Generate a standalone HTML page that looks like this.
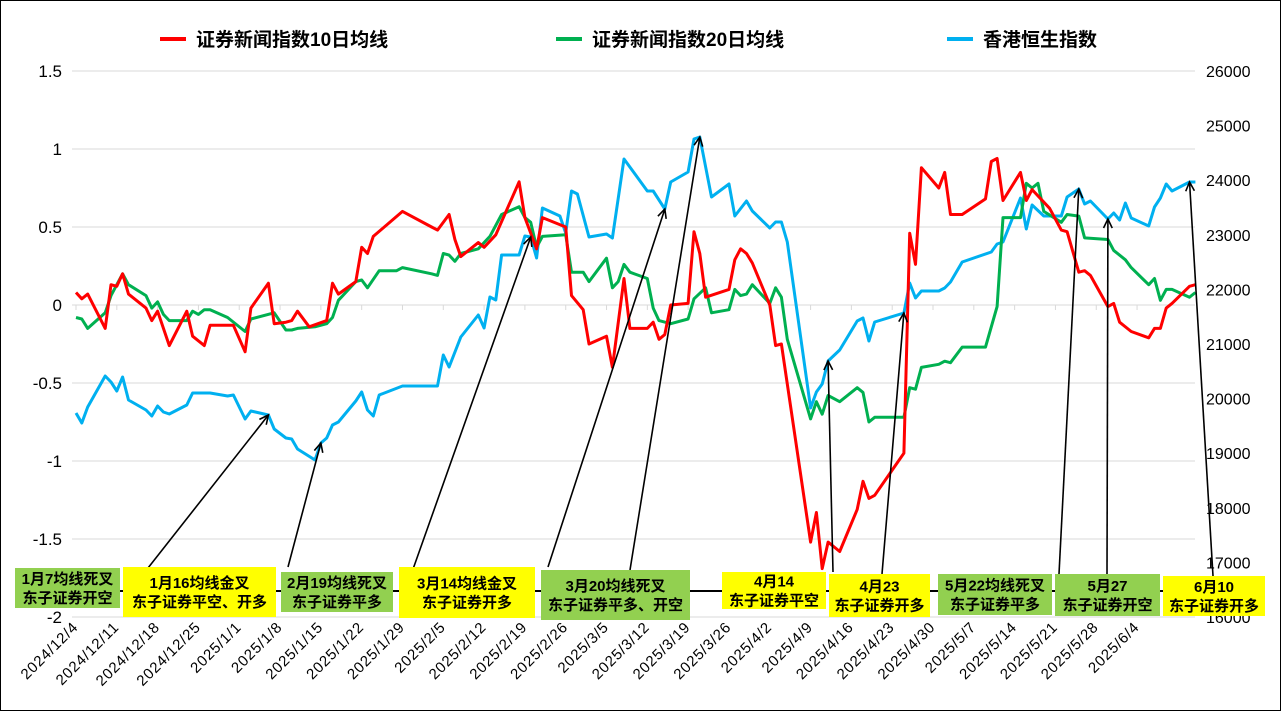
<!DOCTYPE html>
<html><head><meta charset="utf-8"><style>
html,body{margin:0;padding:0;background:#fff}
svg{display:block}
text{font-family:"Liberation Sans","Noto Sans CJK SC",sans-serif}
.cj{font-family:"Liberation Sans","Noto Sans CJK SC",sans-serif;font-weight:bold}
</style></head><body>
<svg id="c" width="1281" height="711" viewBox="0 0 1281 711" xmlns="http://www.w3.org/2000/svg">
<rect x="0.5" y="0.5" width="1280" height="710" fill="#fff" stroke="#000"/>
<g id="grid"></g><g id="axes"></g><g id="series"></g><g id="ann"></g>
<g id="legend">
<line x1="160" y1="39" x2="186" y2="39" stroke="#ff0000" stroke-width="4"/>
<text x="196" y="46" font-size="19" class="cj" fill="#000">证券新闻指数10日均线</text>
<line x1="556" y1="39" x2="582" y2="39" stroke="#00b050" stroke-width="4"/>
<text x="592" y="46" font-size="19" class="cj" fill="#000">证券新闻指数20日均线</text>
<line x1="947" y1="39" x2="973" y2="39" stroke="#00b0f0" stroke-width="4"/>
<text x="983" y="46" font-size="19" class="cj" fill="#000">香港恒生指数</text>
</g>
</svg>
<script>
// day offsets from 2024-12-04
const redDays=[0,1,2,5,6,7,8,9,12,13,14,16,19,20,22,23,27,29,30,33,34,36,37,38,40,43,44,45,48,49,50,51,56,61,62,64,65,66,69,70,72,76,77,79,80,84,85,87,88,91,92,94,95,98,99,100,101,102,105,106,107,108,112,113,114,115,116,119,120,121,126,127,128,129,131,134,135,136,137,142,143,144,145,148,149,150,152,156,157,158,159,162,163,164,167,169,170,172,173,174,177,178,179,181,184,185,186,187,188,191,192];
const redVals=[0.08,0.04,0.07,-0.15,0.13,0.12,0.2,0.07,-0.02,-0.1,-0.04,-0.26,-0.04,-0.2,-0.26,-0.13,-0.13,-0.3,-0.02,0.14,-0.12,-0.11,-0.1,-0.04,-0.14,-0.1,0.14,0.07,0.15,0.37,0.33,0.44,0.6,0.5,0.48,0.58,0.42,0.31,0.4,0.37,0.45,0.79,0.56,0.36,0.56,0.5,0.06,-0.03,-0.25,-0.2,-0.4,0.17,-0.15,-0.15,-0.11,-0.22,-0.19,0,0.01,0.47,0.33,0.05,0.1,0.29,0.36,0.33,0.27,0.0,-0.26,-0.25,-1.52,-1.33,-1.69,-1.52,-1.58,-1.31,-1.13,-1.24,-1.22,-0.95,0.46,0.26,0.88,0.75,0.85,0.58,0.58,0.68,0.92,0.94,0.67,0.85,0.67,0.74,0.62,0.48,0.47,0.21,0.22,0.19,-0.01,0.01,-0.11,-0.17,-0.21,-0.15,-0.15,-0.02,0.01,0.12,0.13];
const greenDays=[0,1,2,5,6,8,9,12,13,14,15,16,19,20,21,22,23,26,29,30,34,36,37,38,41,43,44,45,48,49,50,52,55,56,61,62,63,64,65,66,69,71,73,76,77,78,79,80,84,85,87,88,91,92,93,94,95,98,99,100,102,105,106,108,109,112,113,114,115,116,119,120,121,122,126,127,128,129,131,134,135,136,137,142,143,144,145,148,149,150,152,156,158,159,162,163,164,165,166,169,170,172,173,177,178,180,181,184,185,186,187,188,191,192];
const greenVals=[-0.08,-0.09,-0.15,-0.05,0.06,0.2,0.13,0.06,-0.02,0.02,-0.06,-0.1,-0.1,-0.04,-0.06,-0.03,-0.03,-0.08,-0.17,-0.09,-0.05,-0.16,-0.16,-0.15,-0.14,-0.12,-0.08,0.03,0.15,0.16,0.11,0.22,0.22,0.24,0.2,0.19,0.33,0.32,0.28,0.33,0.36,0.44,0.58,0.63,0.56,0.53,0.37,0.44,0.45,0.21,0.21,0.15,0.3,0.11,0.15,0.26,0.21,0.17,-0.02,-0.1,-0.12,-0.09,0.04,0.11,-0.05,-0.03,0.1,0.06,0.07,0.13,0.01,0.11,0.05,-0.22,-0.73,-0.62,-0.7,-0.58,-0.62,-0.53,-0.56,-0.75,-0.72,-0.72,-0.53,-0.54,-0.4,-0.38,-0.36,-0.37,-0.27,-0.27,-0.01,0.56,0.56,0.78,0.75,0.78,0.6,0.53,0.58,0.57,0.43,0.42,0.35,0.29,0.24,0.13,0.17,0.03,0.1,0.1,0.05,0.08];
const hsiDays=[0,1,2,5,6,7,8,9,12,13,14,15,16,19,20,23,26,27,29,30,33,34,36,37,38,41,42,43,44,45,48,49,50,51,52,56,62,63,64,66,69,70,71,72,73,76,77,78,79,80,83,84,85,86,88,91,92,94,98,99,101,102,105,106,107,109,112,113,115,116,119,120,121,122,126,127,128,129,131,134,135,136,137,142,143,144,145,148,149,150,152,157,158,159,162,163,164,166,169,170,172,173,174,177,178,179,180,181,184,185,186,187,188,191,192];
const hsiVals=[19736,19553,19846,20414,20304,20139,20396,19974,19791,19681,19864,19755,19718,19883,20103,20103,20048,20066,19626,19773,19700,19443,19278,19260,19077,18876,19187,19278,19516,19571,19956,20121,19791,19681,20066,20231,20231,20798,20579,21128,21531,21293,21861,21806,22630,22630,22978,22960,22575,23491,23344,23033,23802,23747,22960,23015,22941,24388,23802,23802,23473,23967,24150,24755,24791,23692,23930,23344,23619,23436,23125,23234,23234,22868,19828,20121,20267,20689,20890,21421,21476,21055,21403,21568,22117,21843,21971,21971,22026,22136,22502,22685,22831,22868,23674,23106,23546,23344,23344,23692,23839,23564,23619,23289,23399,23271,23582,23308,23161,23509,23674,23930,23802,23967,23967];
const leftTicks=["1.5","1","0.5","0","-0.5","-1","-1.5","-2"];
const leftTickVals=[1.5,1,0.5,0,-0.5,-1,-1.5,-2];
const rightTicks=[26000,25000,24000,23000,22000,21000,20000,19000,18000,17000,16000];
const dateLabels=["2024/12/4","2024/12/11","2024/12/18","2024/12/25","2025/1/1","2025/1/8","2025/1/15","2025/1/22","2025/1/29","2025/2/5","2025/2/12","2025/2/19","2025/2/26","2025/3/5","2025/3/12","2025/3/19","2025/3/26","2025/4/2","2025/4/9","2025/4/16","2025/4/23","2025/4/30","2025/5/7","2025/5/14","2025/5/21","2025/5/28","2025/6/4"];
const annLine1=["1月7均线死叉","1月16均线金叉","2月19均线死叉","3月14均线金叉","3月20均线死叉","4月14","4月23","5月22均线死叉","5月27","6月10"];
const annLine2=["东子证券开空","东子证券平空、开多","东子证券平多","东子证券开多","东子证券平多、开空","东子证券平空","东子证券开多","东子证券平多","东子证券开空","东子证券开多"];
const annType=["g","y","g","y","g","y","y","g","g","y"];
const annTargetDay=[33,42,78,101,107,129,142,172,177,191];

const NS="http://www.w3.org/2000/svg";
const X0=76,DX=5.83,PL=72,PR=1195;
const xs=d=>X0+d*DX;
const yl=v=>305-v*156;
const yr=v=>71+(26000-v)*0.0546;
function mk(tag,attrs,parent){const e=document.createElementNS(NS,tag);for(const k in attrs)e.setAttribute(k,attrs[k]);parent.appendChild(e);return e;}
const grid=document.getElementById('grid'),axes=document.getElementById('axes'),series=document.getElementById('series'),ann=document.getElementById('ann');

leftTickVals.forEach((v,i)=>{
 const g=mk('line',{x1:PL,x2:PR,y1:yl(v),y2:yl(v),stroke:'#d9d9d9','stroke-width':1},grid);
 
 
 const t=mk('text',{x:62,y:yl(v)+6,'text-anchor':'end','font-size':17,fill:'#000'},axes);
 t.textContent=leftTicks[i];
 
 
});
rightTicks.forEach(v=>{
 const t=mk('text',{x:1206,y:yr(v)+6,'font-size':16,fill:'#000'},axes);
 t.textContent=v;
 
 
});
dateLabels.forEach((s,i)=>{
 const x=xs(i*7);
 const tk=mk('line',{x1:x,x2:x,y1:305,y2:310,stroke:'#d9d9d9'},axes);
 
 
 const t=mk('text',{x:x+3,y:628,'text-anchor':'end','font-size':15,'letter-spacing':'0.8',fill:'#000',transform:`rotate(-45 ${x+3} 628)`},axes);
 t.textContent=s;
 
 
});
function line(days,vals,yf,color,name){
 const d=days.map((dd,i)=>(i?'L':'M')+xs(dd).toFixed(1)+','+yf(vals[i]).toFixed(1)).join('');
 const p=mk('path',{d:d,fill:'none',stroke:color,'stroke-width':3,'stroke-linejoin':'round'},series);
 
 
}
line(hsiDays,hsiVals,yr,'#00b0f0','hsi-line');
line(greenDays,greenVals,yl,'#00b050','ma20-line');
line(redDays,redVals,yl,'#ff0000','ma10-line');

const boxX=[15,123,281,399,541,722,829,938,1055,1163];
const boxW=[105,153,112,136,149,104,101,114,105,102];
const boxY=[568,567,572,567,570,572,574,574,574,576];
const boxH=[40,50,40,51,50,37,43,41,42,40];
const arrowFromX=[148,288,412,548,630,833,882,1059,1107,1213];
const bl=mk('line',{x1:15,x2:1265,y1:591,y2:591,stroke:'#000','stroke-width':2},ann);


function hsiAt(d){for(let i=0;i<hsiDays.length-1;i++){if(d>=hsiDays[i]&&d<=hsiDays[i+1]){const t=(d-hsiDays[i])/((hsiDays[i+1]-hsiDays[i])||1);return hsiVals[i]+t*(hsiVals[i+1]-hsiVals[i]);}}return hsiVals[hsiVals.length-1];}
annLine1.forEach((s,i)=>{
 const tx=xs(annTargetDay[i]),ty=yr(hsiAt(annTargetDay[i]));
 const fx=arrowFromX[i],fy=boxY[i];
 const a=mk('line',{x1:fx,y1:fy,x2:tx,y2:ty,stroke:'#000','stroke-width':1.6},ann);
 
 
 const ang=Math.atan2(ty-fy,tx-fx),L=10;
 const hd=`M${tx-L*Math.cos(ang-0.45)},${ty-L*Math.sin(ang-0.45)}L${tx},${ty}L${tx-L*Math.cos(ang+0.45)},${ty-L*Math.sin(ang+0.45)}`;
 const h=mk('path',{d:hd,fill:'none',stroke:'#000','stroke-width':1.6},ann);
 
 
});
annLine1.forEach((s,i)=>{
 const g=mk('g',{},ann);
 
 
 mk('rect',{x:boxX[i],y:boxY[i],width:boxW[i],height:boxH[i],fill:annType[i]==='g'?'#92d050':'#ffff00'},g);
 const cx=boxX[i]+boxW[i]/2,cy=boxY[i]+boxH[i]/2;
 const t1=mk('text',{x:cx,y:cy-4,'text-anchor':'middle','font-size':15,'class':'cj',fill:'#000'},g);
 t1.textContent=s;
 const t2=mk('text',{x:cx,y:cy+15,'text-anchor':'middle','font-size':15,'class':'cj',fill:'#000'},g);
 t2.textContent=annLine2[i];
});
</script>
</body></html>
